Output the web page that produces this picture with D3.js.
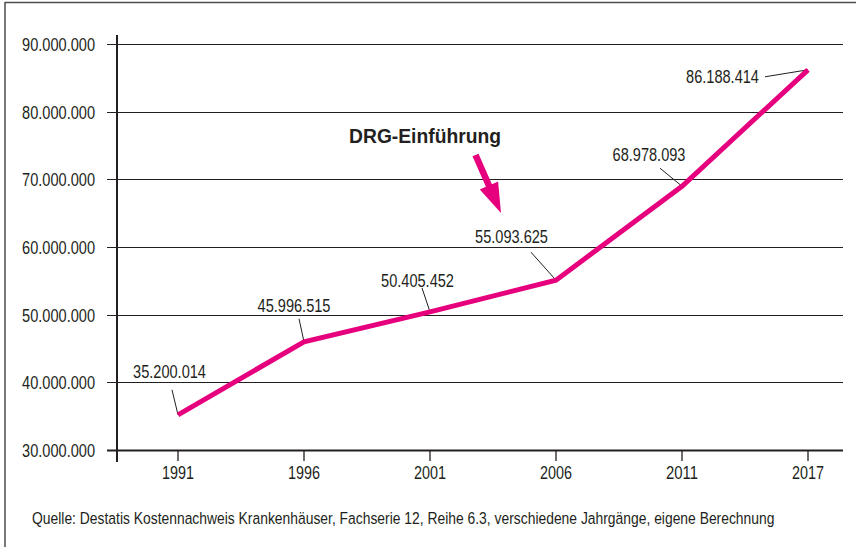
<!DOCTYPE html>
<html>
<head>
<meta charset="utf-8">
<script src="https://cdn.jsdelivr.net/npm/d3@7"></script>
<style>
  html, body { margin: 0; padding: 0; background: #fff; }
  svg { display: block; }
  text { font-family: "Liberation Sans", Arial, sans-serif; fill: #231f20; }
</style>
</head>
<body>
<svg id="chart" width="856" height="547"></svg>
<script>
// ---- data ----
const years = ["1991", "1996", "2001", "2006", "2011", "2017"];
const values = [35200014, 45996515, 50405452, 55093625, 68978093, 86188414];
const valueLabels = ["35.200.014", "45.996.515", "50.405.452", "55.093.625", "68.978.093", "86.188.414"];
const yTicks = [30000000, 40000000, 50000000, 60000000, 70000000, 80000000, 90000000];
const annotation = "DRG-Einführung";
const source = "Quelle: Destatis Kostennachweis Krankenhäuser, Fachserie 12, Reihe 6.3, verschiedene Jahrgänge, eigene Berechnung";

// ---- layout (label offsets relative to each point) ----
const labelOffsets = [
  { dx: -8.5, dy: -37, lx: -6, ly: -25 },
  { dx: -10, dy: -30, lx: -5, ly: -23 },
  { dx: -12.5, dy: -25, lx: -8, ly: -24 },
  { dx: -44.5, dy: -37, lx: -25, ly: -28 },
  { dx: -33, dy: -25, lx: -22, ly: -18 },
  { dx: -85.5, dy: 13, lx: -43, ly: 7 }
];

const magenta = "#e6007e";
const ink = "#231f20";
const svg = d3.select("#chart");

const x = d3.scalePoint().domain(years).range([178, 808]);
const y = d3.scaleLinear().domain([30000000, 90000000]).range([450, 44]);
const fmt = v => d3.format(",")(v).replace(/,/g, ".");

// place text at (px,py) and condense it horizontally to a target width (emulates a condensed face)
function fitText(sel, px, py, targetW) {
  sel.each(function (d, i) {
    const w = this.getComputedTextLength();
    const tw = typeof targetW === "function" ? targetW(d, i) : targetW;
    const sx = Math.min(1, tw / w);
    d3.select(this).attr("x", 0).attr("y", 0)
      .attr("transform", `translate(${px(d, i)},${py(d, i)}) scale(${sx},1)`);
  });
}

// frame (top and left)
svg.append("line").attr("x1", 5).attr("x2", 856).attr("y1", 2.5).attr("y2", 2.5)
  .attr("stroke", "#4d4d4d").attr("stroke-width", 1.5);
svg.append("line").attr("x1", 5).attr("x2", 5).attr("y1", 2).attr("y2", 547)
  .attr("stroke", "#4d4d4d").attr("stroke-width", 1.5);

// gridlines + y labels
const gy = svg.append("g");
gy.selectAll("line.grid").data(yTicks.filter(t => t !== 30000000)).join("line")
  .attr("class", "grid")
  .attr("x1", 107).attr("x2", 843)
  .attr("y1", d => Math.round(y(d)) + 0.5).attr("y2", d => Math.round(y(d)) + 0.5)
  .attr("stroke", ink).attr("stroke-width", 1);
gy.selectAll("text.ylab").data(yTicks).join("text")
  .attr("class", "ylab")
  .attr("dy", "0.36em")
  .attr("text-anchor", "end")
  .attr("font-size", 19)
  .text(fmt)
  .call(fitText, () => 95, d => y(d), 73);

// x axis line
svg.append("line").attr("x1", 107).attr("x2", 843).attr("y1", 450.5).attr("y2", 450.5)
  .attr("stroke", ink).attr("stroke-width", 2);
// y axis line
svg.append("line").attr("x1", 117).attr("x2", 117).attr("y1", 35).attr("y2", 462)
  .attr("stroke", ink).attr("stroke-width", 2);

// x ticks and labels
const gx = svg.append("g");
gx.selectAll("line").data(years).join("line")
  .attr("x1", d => x(d)).attr("x2", d => x(d))
  .attr("y1", 450).attr("y2", 461)
  .attr("stroke", ink).attr("stroke-width", 1.3);
gx.selectAll("text").data(years).join("text")
  .attr("text-anchor", "middle")
  .attr("font-size", 19)
  .text(d => d)
  .call(fitText, d => x(d), () => 479, 32);

// leader lines
const pts = years.map((yr, i) => ({ px: x(yr), py: y(values[i]), label: valueLabels[i], o: labelOffsets[i] }));
svg.append("g").selectAll("line").data(pts).join("line")
  .attr("x1", d => d.px + d.o.lx).attr("y1", d => d.py + d.o.ly)
  .attr("x2", d => d.px).attr("y2", d => d.py)
  .attr("stroke", ink).attr("stroke-width", 1);

// data line
const line = d3.line().x(d => d.px).y(d => d.py);
svg.append("path").datum(pts)
  .attr("d", line)
  .attr("fill", "none")
  .attr("stroke", magenta)
  .attr("stroke-width", 5)
  .attr("stroke-linejoin", "miter");

// value labels
svg.append("g").selectAll("text").data(pts).join("text")
  .attr("text-anchor", "middle")
  .attr("font-size", 19)
  .text(d => d.label)
  .call(fitText, d => d.px + d.o.dx, d => d.py + d.o.dy, 73);

// annotation
svg.append("text")
  .attr("text-anchor", "middle")
  .attr("font-weight", "bold")
  .attr("font-size", 20.5)
  .text(annotation)
  .call(fitText, () => 425, () => 143, 152);

// arrow (from shaft start to tip)
const a0 = [475.5, 155], a1 = [501, 213];
const ang = Math.atan2(a1[1] - a0[1], a1[0] - a0[0]);
const len = Math.hypot(a1[0] - a0[0], a1[1] - a0[1]);
const headLen = 30, headHalf = 10, shaftHalf = 3.3;
const arrowPts = [
  [0, -shaftHalf], [len - headLen, -shaftHalf], [len - headLen, -headHalf], [len, 0],
  [len - headLen, headHalf], [len - headLen, shaftHalf], [0, shaftHalf]
].map(([u, v]) => [a0[0] + u * Math.cos(ang) - v * Math.sin(ang), a0[1] + u * Math.sin(ang) + v * Math.cos(ang)]);
svg.append("path")
  .attr("d", "M" + arrowPts.map(p => p.join(",")).join("L") + "Z")
  .attr("fill", magenta);

// source
svg.append("text")
  .attr("font-size", 16.5)
  .text(source)
  .call(fitText, () => 32, () => 524, 743);
</script>
</body>
</html>
